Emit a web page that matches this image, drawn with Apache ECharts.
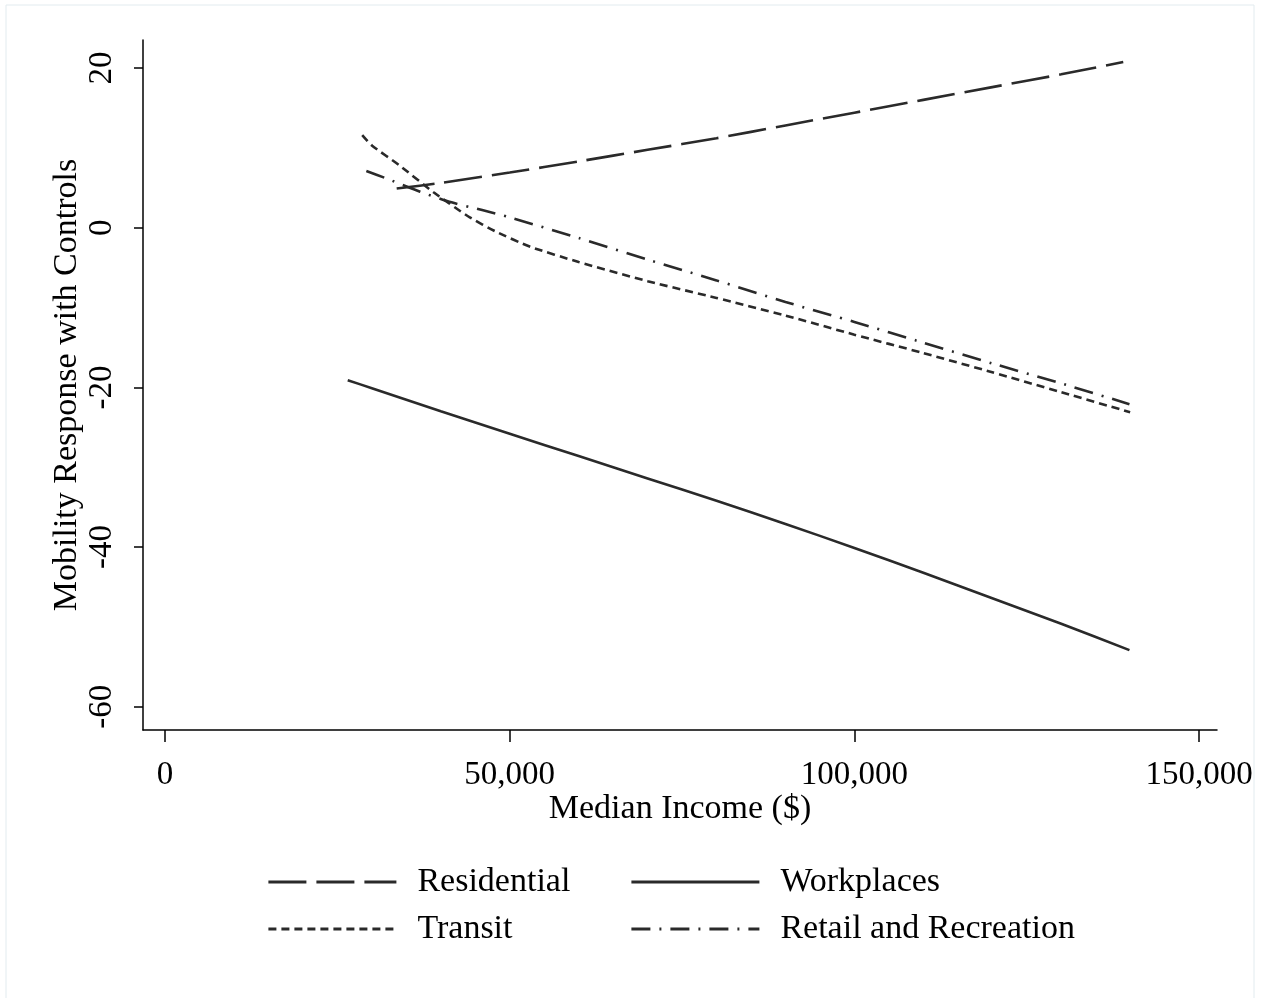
<!DOCTYPE html>
<html>
<head>
<meta charset="utf-8">
<script src="https://cdn.jsdelivr.net/npm/echarts@6/dist/echarts.min.js"></script>
<style>
  html, body { margin: 0; padding: 0; background: #fff; }
  #main { width: 1262px; height: 998px; }
</style>
</head>
<body>
<div id="main"></div>
<script>
// median income ($) and mobility response
var residentialIncome = [33600, 40000, 50000, 60000, 70000, 80000, 90000, 100000, 110000, 120000, 130000, 139000];
var residentialValue  = [4.9, 5.6, 6.9, 8.3, 9.75, 11.2, 12.8, 14.4, 16.0, 17.6, 19.2, 20.75];

var transitIncome = [28600, 30000, 34000, 39000, 44000, 48000, 53000, 60000, 70000, 80000, 90000, 100000, 110000, 120000, 130000, 140000];
var transitValue  = [11.6, 10.3, 7.8, 4.4, 1.4, -0.5, -2.4, -4.3, -6.7, -8.8, -11.0, -13.4, -15.7, -18.1, -20.6, -23.1];

var workplacesIncome = [26500, 30000, 40000, 50000, 60000, 70000, 80000, 90000, 100000, 110000, 120000, 130000, 139900];
var workplacesValue  = [-19.1, -20.1, -23.0, -25.8, -28.6, -31.4, -34.2, -37.1, -40.1, -43.2, -46.4, -49.6, -52.9];

var retailIncome = [29200, 32000, 37000, 41000, 46000, 50000, 60000, 70000, 80000, 90000, 100000, 110000, 120000, 130000, 139900];
var retailValue  = [7.1, 6.2, 4.5, 3.3, 2.2, 1.3, -1.3, -4.0, -6.6, -9.3, -11.8, -14.4, -17.0, -19.5, -22.1];

var xTicks = [0, 50000, 100000, 150000];
var yTicks = [-60, -40, -20, 0, 20];

function pairs(xs, ys) {
    return xs.map(function (x, i) { return [x, ys[i]]; });
}

var chart = echarts.init(document.getElementById('main'));
var serif = 'Liberation Serif';
var lineColor = '#2a2a2a';

function lineSeries(name, xs, ys, dash) {
    return {
        name: name,
        type: 'line',
        data: pairs(xs, ys),
        symbol: 'none',
        smooth: 0.2,
        lineStyle: { color: lineColor, width: 2.6, type: dash },
        itemStyle: { color: lineColor }
    };
}

function legendAt(name, left, top) {
    return {
        data: [name],
        left: left,
        top: top,
        itemWidth: 128,
        itemHeight: 14,
        itemGap: 0,
        lineStyle: { width: 2.8 },
        itemStyle: { color: 'rgba(0,0,0,0)', borderColor: 'rgba(0,0,0,0)', borderWidth: 0 },
        textStyle: { fontFamily: serif, fontSize: 34, color: '#000', padding: [0, 0, 0, 16] }
    };
}

var option = {
    backgroundColor: '#fff',
    animation: false,
    graphic: [{
        type: 'rect',
        shape: { x: 6, y: 5, width: 1248, height: 1010 },
        style: { fill: 'none', stroke: '#e2ebef', lineWidth: 1 },
        silent: true
    }],
    legend: [
        legendAt('Residential', 262, 860),
        legendAt('Workplaces', 625, 860),
        legendAt('Transit', 262, 907),
        legendAt('Retail and Recreation', 625, 907)
    ],
    grid: { left: 143, right: 45, top: 40, bottom: 268 },
    xAxis: {
        type: 'value',
        min: -3200,
        max: 152600,
        name: 'Median Income ($)',
        nameLocation: 'middle',
        nameGap: 62,
        nameMoveOverlap: false,
        nameTextStyle: { fontFamily: serif, fontSize: 34, color: '#000' },
        splitLine: { show: false },
        axisLine: { show: true, onZero: false, lineStyle: { color: '#000', width: 1.5 } },
        axisTick: { show: true, length: 12, customValues: xTicks, lineStyle: { color: '#000', width: 1.5 } },
        axisLabel: {
            customValues: xTicks,
            margin: 29,
            fontFamily: serif,
            fontSize: 33,
            color: '#000',
            formatter: function (v) { return v.toLocaleString('en-US'); }
        }
    },
    yAxis: {
        type: 'value',
        min: -62.9,
        max: 23.5,
        name: 'Mobility Response with Controls',
        nameLocation: 'middle',
        nameRotate: 90,
        nameGap: 59,
        nameMoveOverlap: false,
        nameTextStyle: { fontFamily: serif, fontSize: 34, color: '#000' },
        splitLine: { show: false },
        axisLine: { show: true, onZero: false, lineStyle: { color: '#000', width: 1.5 } },
        axisTick: { show: true, length: 9, customValues: yTicks, lineStyle: { color: '#000', width: 1.5 } },
        axisLabel: {
            customValues: yTicks,
            rotate: 90,
            margin: 24,
            fontFamily: serif,
            fontSize: 33,
            color: '#000'
        }
    },
    series: [
        lineSeries('Residential', residentialIncome, residentialValue, [38, 10]),
        lineSeries('Workplaces', workplacesIncome, workplacesValue, 'solid'),
        lineSeries('Transit', transitIncome, transitValue, [8, 5]),
        lineSeries('Retail and Recreation', retailIncome, retailValue, [19, 9, 2, 9])
    ]
};

chart.setOption(option);
</script>
</body>
</html>
